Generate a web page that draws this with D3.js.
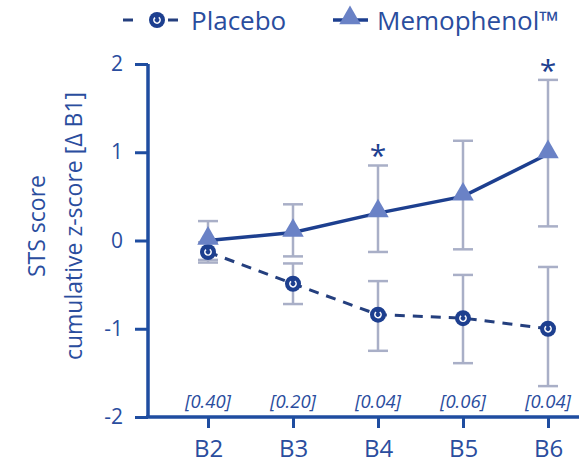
<!DOCTYPE html>
<html>
<head>
<meta charset="utf-8">
<script src="https://cdn.jsdelivr.net/npm/d3@7"></script>
<style>
  body { margin: 0; background: #fff; }
  text { font-family: "Open Sans", "DejaVu Sans", sans-serif; }
</style>
</head>
<body>
<div id="chart"></div>
<script>
var w = 579;
var h = 465;

// data
var visits = ["B2", "B3", "B4", "B5", "B6"];
var pValues = ["[0.40]", "[0.20]", "[0.04]", "[0.06]", "[0.04]"];
var placebo = [-0.13, -0.49, -0.84, -0.88, -1.0];
var placeboLow = [-0.25, -0.72, -1.25, -1.39, -1.65];
var placeboHigh = [-0.02, -0.26, -0.46, -0.39, -0.3];
var memo = [0.0, 0.09, 0.31, 0.5, 0.98];
var memoLow = [-0.22, -0.18, -0.13, -0.1, 0.16];
var memoHigh = [0.22, 0.41, 0.85, 1.13, 1.82];
var significant = [false, false, true, false, true];
var yTicks = [-2, -1, 0, 1, 2];

var navy = "#1d3f8f";
var axisBlue = "#1f4da0";
var textBlue = "#2a4d9e";
var triFill = "#6a82c6";
var errGrey = "#a9afc7";

var svg = d3.select("#chart")
    .append("svg")
    .attr("width", w)
    .attr("height", h);

// scales
var x = d3.scalePoint()
    .domain(visits)
    .range([208, 548]);

var y = d3.scaleLinear()
    .domain([-2, 2])
    .range([417, 64]);

// y axis
var yAxis = svg.append("g")
    .attr("transform", "translate(148,0)")
    .call(d3.axisLeft(y).tickValues(yTicks).tickSize(13).tickPadding(12)
        .tickFormat(function(d) { return String(d); }));
yAxis.select(".domain").attr("stroke", axisBlue).attr("stroke-width", 3.5)
    .attr("d", "M0," + y(2) + "V" + y(-2));
yAxis.selectAll(".tick line").attr("stroke", axisBlue).attr("stroke-width", 3);
yAxis.selectAll(".tick text").attr("fill", textBlue).style("font-size", "21px");

// x axis
var xAxis = svg.append("g")
    .attr("transform", "translate(0," + y(-2) + ")")
    .call(d3.axisBottom(x).tickSize(11).tickPadding(12));
xAxis.select(".domain").attr("stroke", axisBlue).attr("stroke-width", 3.5)
    .attr("d", "M146,0H579");
xAxis.selectAll(".tick line").attr("stroke", axisBlue).attr("stroke-width", 3);
xAxis.selectAll(".tick text").attr("fill", textBlue).style("font-size", "24px");

// y axis title
var title = svg.append("text")
    .attr("transform", "translate(0,226) rotate(-90)")
    .attr("text-anchor", "middle")
    .attr("fill", textBlue)
    .style("font-size", "23px");
title.append("tspan").attr("x", 0).attr("y", 45).text("STS score");
title.append("tspan").attr("x", 0).attr("y", 82).text("cumulative z-score [\u0394 B1]");

// p values
svg.selectAll("text.pval")
    .data(pValues)
    .enter()
    .append("text")
    .attr("class", "pval")
    .attr("x", function(d, i) { return x(visits[i]); })
    .attr("y", 408)
    .attr("text-anchor", "middle")
    .attr("fill", textBlue)
    .style("font-size", "18.5px")
    .style("font-style", "italic")
    .text(function(d) { return d; });

// error bars
function errorBars(low, high, cls) {
    var g = svg.selectAll("g." + cls)
        .data(visits)
        .enter()
        .append("g")
        .attr("class", cls)
        .attr("stroke", errGrey)
        .attr("stroke-width", 2.5);
    g.append("line")
        .attr("x1", function(d) { return x(d); })
        .attr("x2", function(d) { return x(d); })
        .attr("y1", function(d, i) { return y(low[i]); })
        .attr("y2", function(d, i) { return y(high[i]); });
    [low, high].forEach(function(arr) {
        g.append("line")
            .attr("x1", function(d) { return x(d) - 10; })
            .attr("x2", function(d) { return x(d) + 10; })
            .attr("y1", function(d, i) { return y(arr[i]); })
            .attr("y2", function(d, i) { return y(arr[i]); });
    });
}
errorBars(placeboLow, placeboHigh, "errP");
errorBars(memoLow, memoHigh, "errM");

var line = d3.line()
    .x(function(d, i) { return x(visits[i]); })
    .y(function(d) { return y(d); });

// placebo dashed line
svg.append("path")
    .datum(placebo)
    .attr("fill", "none")
    .attr("stroke", "#243f7e")
    .attr("stroke-width", 3)
    .attr("stroke-dasharray", "10,8")
    .attr("d", line);

// memophenol line
svg.append("path")
    .datum(memo)
    .attr("fill", "none")
    .attr("stroke", navy)
    .attr("stroke-width", 3.5)
    .attr("d", line);

// markers
var tri = d3.symbol().type(d3.symbolTriangle).size(200);

function placeboMarker(g) {
    g.append("circle").attr("r", 8).attr("fill", navy);
    g.append("path")
        .attr("d", d3.arc()({ innerRadius: 2.3, outerRadius: 3.9, startAngle: 0.6, endAngle: 5.6 }))
        .attr("fill", "#fff");
}

svg.selectAll("g.pm")
    .data(placebo)
    .enter()
    .append("g")
    .attr("class", "pm")
    .attr("transform", function(d, i) { return "translate(" + x(visits[i]) + "," + y(d) + ")"; })
    .call(placeboMarker);

svg.selectAll("path.mm")
    .data(memo)
    .enter()
    .append("path")
    .attr("class", "mm")
    .attr("d", tri)
    .attr("fill", triFill)
    .attr("transform", function(d, i) { return "translate(" + x(visits[i]) + "," + (y(d) - 2) + ")"; });

// significance stars
var starIdx = d3.range(visits.length).filter(function(i) { return significant[i]; });
svg.selectAll("text.star")
    .data(starIdx)
    .enter()
    .append("text")
    .attr("class", "star")
    .attr("x", function(i) { return x(visits[i]); })
    .attr("y", function(i) { return y(memoHigh[i]) + 1; })
    .attr("text-anchor", "middle")
    .attr("fill", navy)
    .style("font-size", "30px")
    .text("*");

// legend
var leg = svg.append("g");
leg.append("line").attr("x1", 123).attr("x2", 133).attr("y1", 20).attr("y2", 20)
    .attr("stroke", "#243f7e").attr("stroke-width", 3);
leg.append("line").attr("x1", 168).attr("x2", 178).attr("y1", 20).attr("y2", 20)
    .attr("stroke", "#243f7e").attr("stroke-width", 3);
leg.append("g").attr("transform", "translate(157,20)").call(placeboMarker);
leg.append("text").attr("x", 191).attr("y", 30).attr("fill", textBlue)
    .style("font-size", "26px").text("Placebo");

leg.append("line").attr("x1", 333).attr("x2", 368).attr("y1", 20).attr("y2", 20)
    .attr("stroke", navy).attr("stroke-width", 3.5);
leg.append("path").attr("d", tri).attr("fill", triFill)
    .attr("transform", "translate(350,18)");
leg.append("text").attr("x", 377).attr("y", 30).attr("fill", textBlue)
    .style("font-size", "26px").text("Memophenol\u2122");
</script>
</body>
</html>
